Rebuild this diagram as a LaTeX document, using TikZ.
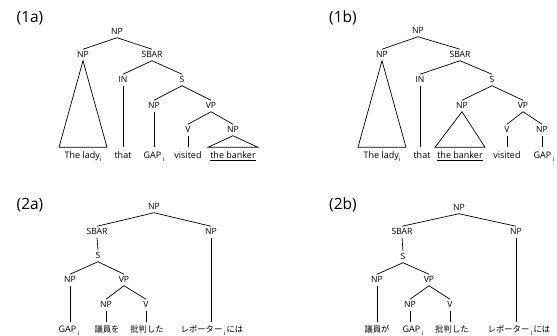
\documentclass[tikz,border=0pt]{standalone}
\usepackage{fontspec}
\setmainfont{Open Sans}
\newfontfamily\jafont{Noto Sans CJK JP}
\usetikzlibrary{calc}
% lowered index letter
\newcommand{\lowi}{\raisebox{-0.55ex}{\fontsize{6}{6}\selectfont i}}
\tikzset{
  cat/.style={font=\fontsize{8.6}{9}\selectfont, inner xsep=1pt, inner ysep=2.2pt, text height=6.2pt, text depth=0.5pt},
  leaf/.style={font=\fontsize{9}{10}\selectfont, inner sep=1pt, text height=10pt, text depth=2pt},
  jleaf/.style={font=\jafont\fontsize{8.3}{10}\selectfont, inner sep=1pt, text height=10pt, text depth=2pt},
  tag/.style={font=\fontsize{15.5}{17}\selectfont, inner sep=0pt},
  edge/.style={line width=0.7pt},
}
\begin{document}
\begin{tikzpicture}[x=1pt,y=-1pt]
\useasboundingbox (0,0) rectangle (557,336);

% ---------- (1a) ----------
\node[tag] (t1) at (30,18) {(1a)};
\node[cat] (a0) at (117,32) {NP};
\node[cat] (a1) at (83,55) {NP};
\node[cat] (a2) at (152,55) {SBAR};
\node[cat] (a3) at (123,80) {IN};
\node[cat] (a4) at (182,80) {S};
\node[cat] (a5) at (154,106) {NP};
\node[cat] (a6) at (211,106) {VP};
\node[cat] (a7) at (188,130) {V};
\node[cat] (a8) at (233,130) {NP};
\node[leaf] (la1) at (83,154.5) {The lady\lowi};
\node[leaf] (la2) at (123,154.5) {that};
\node[leaf] (la3) at (154,154.5) {GAP\,\lowi};
\node[leaf] (la4) at (188,154.5) {visited};
\node[leaf] (la5) at (233,154.5) {\underline{the banker}};
\draw[edge] (a0.south) -- (a1.north);
\draw[edge] (a0.south) -- (a2.north);
\draw[edge] (a2.south) -- (a3.north);
\draw[edge] (a2.south) -- (a4.north);
\draw[edge] (a4.south) -- (a5.north);
\draw[edge] (a4.south) -- (a6.north);
\draw[edge] (a6.south) -- (a7.north);
\draw[edge] (a6.south) -- (a8.north);
\draw[edge] (a1.south) -- ($(la1.north)+(-24,0)$) -- ($(la1.north)+(24,0)$) -- cycle;
\draw[edge] (a3.south) -- (a3.south |- la2.north);
\draw[edge] (a5.south) -- (a5.south |- la3.north);
\draw[edge] (a7.south) -- (a7.south |- la4.north);
\draw[edge] (a8.south) -- ($(la5.north)+(-25,0)$) -- ($(la5.north)+(25,0)$) -- cycle;

% ---------- (1b) ----------
\node[tag] (t2) at (343,18) {(1b)};
\node[cat] (b0) at (418,31) {NP};
\node[cat] (b1) at (382,55) {NP};
\node[cat] (b2) at (460,55) {SBAR};
\node[cat] (b3) at (420,80) {IN};
\node[cat] (b4) at (492,80) {S};
\node[cat] (b5) at (462,106) {NP};
\node[cat] (b6) at (523,106) {VP};
\node[cat] (b7) at (507,130) {V};
\node[cat] (b8) at (542,130) {NP};
\node[leaf] (lb1) at (382,154.5) {The lady\lowi};
\node[leaf] (lb2) at (422,154.5) {that};
\node[leaf] (lb3) at (460,154.5) {\underline{the banker}};
\node[leaf] (lb4) at (507,154.5) {visited};
\node[leaf] (lb5) at (544,154.5) {GAP\,\lowi};
\draw[edge] (b0.south) -- (b1.north);
\draw[edge] (b0.south) -- (b2.north);
\draw[edge] (b2.south) -- (b3.north);
\draw[edge] (b2.south) -- (b4.north);
\draw[edge] (b4.south) -- (b5.north);
\draw[edge] (b4.south) -- (b6.north);
\draw[edge] (b6.south) -- (b7.north);
\draw[edge] (b6.south) -- (b8.north);
\draw[edge] (b1.south) -- ($(lb1.north)+(-24,0)$) -- ($(lb1.north)+(24,0)$) -- cycle;
\draw[edge] (b3.south) -- (b3.south |- lb2.north);
\draw[edge] (b5.south) -- ($(lb3.north)+(-25,0)$) -- ($(lb3.north)+(25,0)$) -- cycle;
\draw[edge] (b7.south) -- (b7.south |- lb4.north);
\draw[edge] (b8.south) -- (b8.south |- lb5.north);

% ---------- (2a) ----------
\node[tag] (t3) at (30,205) {(2a)};
\node[cat] (c0) at (154,207) {NP};
\node[cat] (c1) at (97,232) {SBAR};
\node[cat] (c2) at (211,232) {NP};
\node[cat] (c3) at (98,256) {S};
\node[cat] (c4) at (70,280) {NP};
\node[cat] (c5) at (124,280) {VP};
\node[cat] (c6) at (106,305) {NP};
\node[cat] (c7) at (146,305) {V};
\node[leaf] (lc1) at (69,329) {GAP\,\lowi};
\node[jleaf] (lc2) at (107,329) {議員を};
\node[jleaf] (lc3) at (147,329) {批判した};
\node[jleaf] (lc4) at (212,329) {レポーター\,{\fontspec{Open Sans}\lowi}\,には};
\draw[edge] (c0.south) -- (c1.north);
\draw[edge] (c0.south) -- (c2.north);
\draw[edge] (c1.south) -- (c3.north);
\draw[edge] (c3.south) -- (c4.north);
\draw[edge] (c3.south) -- (c5.north);
\draw[edge] (c5.south) -- (c6.north);
\draw[edge] (c5.south) -- (c7.north);
\draw[edge] (c4.south) -- (c4.south |- lc1.north);
\draw[edge] (c6.south) -- (c6.south |- lc2.north);
\draw[edge] (c7.south) -- (c7.south |- lc3.north);
\draw[edge] (c2.south) -- (c2.south |- lc4.north);

% ---------- (2b) ----------
\node[tag] (t4) at (343,205) {(2b)};
\node[cat] (d0) at (459,208) {NP};
\node[cat] (d1) at (402,232) {SBAR};
\node[cat] (d2) at (516,232) {NP};
\node[cat] (d3) at (403,257) {S};
\node[cat] (d4) at (377,280) {NP};
\node[cat] (d5) at (429,280) {VP};
\node[cat] (d6) at (410,305) {NP};
\node[cat] (d7) at (450,305) {V};
\node[jleaf] (ld1) at (377,329) {議員が};
\node[leaf] (ld2) at (413,329) {GAP\,\lowi};
\node[jleaf] (ld3) at (452,329) {批判した};
\node[jleaf] (ld4) at (519,329) {レポーター\,{\fontspec{Open Sans}\lowi}\,には};
\draw[edge] (d0.south) -- (d1.north);
\draw[edge] (d0.south) -- (d2.north);
\draw[edge] (d1.south) -- (d3.north);
\draw[edge] (d3.south) -- (d4.north);
\draw[edge] (d3.south) -- (d5.north);
\draw[edge] (d5.south) -- (d6.north);
\draw[edge] (d5.south) -- (d7.north);
\draw[edge] (d4.south) -- (d4.south |- ld1.north);
\draw[edge] (d6.south) -- (d6.south |- ld2.north);
\draw[edge] (d7.south) -- (d7.south |- ld3.north);
\draw[edge] (d2.south) -- (d2.south |- ld4.north);
\end{tikzpicture}
\end{document}
